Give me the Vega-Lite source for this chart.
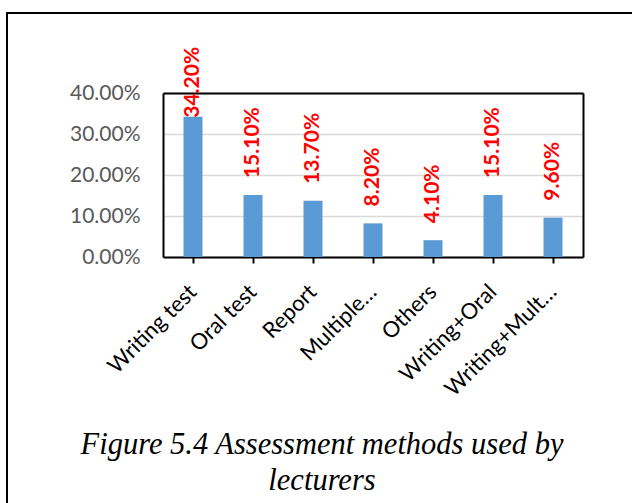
{
  "$schema": "https://vega.github.io/schema/vega-lite/v6.json",
  "autosize": {"type": "none"},
  "padding": {"left": 7, "top": 13, "right": 0, "bottom": 0},
  "width": 630,
  "height": 495,
  "background": "white",
  "config": {
    "view": {"stroke": "black", "strokeWidth": 2},
    "font": "Lato"
  },
  "title": {
    "text": ["Figure 5.4 Assessment methods used by", "lecturers"],
    "orient": "bottom",
    "anchor": "middle",
    "frame": "group",
    "font": "Liberation Serif",
    "fontStyle": "italic",
    "fontWeight": "normal",
    "fontSize": 30.5,
    "lineHeight": 36,
    "color": "black",
    "baseline": "alphabetic",
    "offset": -54
  },
  "data": {
    "values": [
      {"method": "Writing test", "share": 0.342},
      {"method": "Oral test", "share": 0.151},
      {"method": "Report", "share": 0.137},
      {"method": "Multiple…", "share": 0.082},
      {"method": "Others", "share": 0.041},
      {"method": "Writing+Oral", "share": 0.151},
      {"method": "Writing+Mult…", "share": 0.096}
    ]
  },
  "resolve": {"axis": {"x": "independent", "y": "independent"}},
  "layer": [
    {
      "mark": {"type": "bar", "color": "#5B9BD5", "width": 19},
      "encoding": {
        "x": {
          "field": "method", "type": "nominal", "sort": null,
          "scale": {"type": "band", "range": [156, 576], "paddingInner": 0, "paddingOuter": 0},
          "axis": {
            "orient": "bottom", "offset": -251, "title": null,
            "domainColor": "black", "domainWidth": 2,
            "tickColor": "black", "tickWidth": 2, "tickSize": 6,
            "labelAngle": -45, "labelAlign": "right", "labelBaseline": "middle",
            "labelPadding": 25, "labelFont": "Lato", "labelFontSize": 22, "labelColor": "black",
            "labelLimit": 300
          }
        },
        "y": {
          "field": "share", "type": "quantitative",
          "scale": {"domain": [0, 0.4], "range": [244, 80], "nice": false},
          "axis": {
            "orient": "left", "offset": -156, "title": null, "format": ".2%",
            "values": [0, 0.1, 0.2, 0.3, 0.4],
            "domainColor": "black", "domainWidth": 2,
            "ticks": false, "labelPadding": 23,
            "labelFont": "Lato", "labelFontSize": 21, "labelColor": "#595959",
            "grid": true, "gridColor": "#d9d9d9", "gridWidth": 1.5
          }
        }
      }
    },
    {
      "transform": [{"filter": "datum.share < 0.3"}],
      "mark": {"type": "text", "angle": 270, "align": "left", "baseline": "middle", "dx": 17, "color": "#FF0000", "font": "Lato", "fontWeight": "bold", "fontSize": 21},
      "encoding": {
        "x": {
          "field": "method", "type": "nominal", "sort": null,
          "axis": {"orient": "top", "offset": -80, "labels": false, "ticks": false, "title": null, "domainColor": "black", "domainWidth": 2, "grid": false}
        },
        "y": {
          "field": "share", "type": "quantitative",
          "axis": {"orient": "right", "offset": -54, "labels": false, "ticks": false, "title": null, "domainColor": "black", "domainWidth": 2, "grid": false}
        },
        "text": {"field": "share", "type": "quantitative", "format": ".2%"}
      }
    },
    {
      "transform": [{"filter": "datum.share >= 0.3"}],
      "mark": {"type": "text", "angle": 270, "align": "left", "baseline": "middle", "dx": -1, "color": "#FF0000", "font": "Lato", "fontWeight": "bold", "fontSize": 21},
      "encoding": {
        "x": {"field": "method", "type": "nominal", "sort": null, "axis": null},
        "y": {"field": "share", "type": "quantitative", "axis": null},
        "text": {"field": "share", "type": "quantitative", "format": ".2%"}
      }
    }
  ]
}
